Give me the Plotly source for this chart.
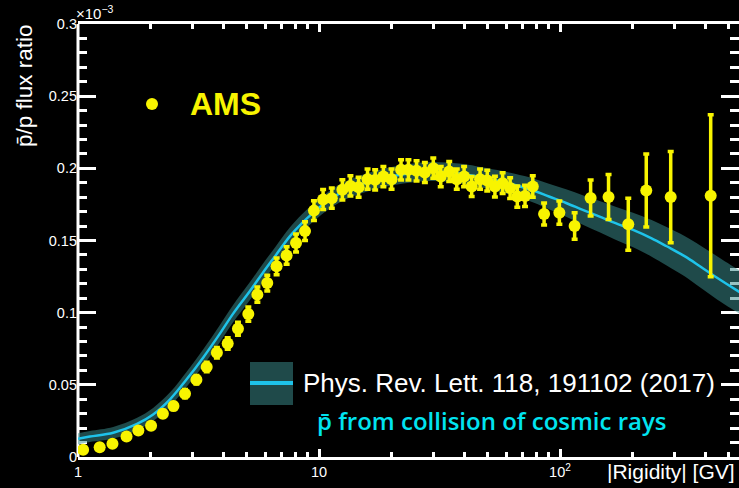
import plotly.graph_objects as go

# ---- AMS antiproton-to-proton flux ratio (values in units of 1e-3) ----
ams_rigidity = [1.05, 1.23, 1.39, 1.59, 1.78, 2.01, 2.25, 2.49, 2.78, 3.10,
                3.42, 3.77, 4.18, 4.61, 5.09, 5.55, 6.10, 6.67, 7.34, 8.03,
                8.75, 9.53,
                10.4, 11.3, 12.5, 13.5, 14.6, 15.9, 17.1, 18.5, 20.0, 21.9,
                23.5, 25.4, 27.5, 29.8, 32.0, 34.7, 37.3, 40.0, 43.0, 46.6,
                49.9, 53.7, 57.8, 62.1, 66.5, 71.6, 77.1,
                85.9, 99.4, 115, 134, 159, 192, 228, 288, 422]
ams_ratio = [0.0050, 0.0068, 0.0092, 0.0142, 0.0184, 0.0217, 0.0300, 0.0353, 0.0439, 0.0535,
             0.0624, 0.0722, 0.0786, 0.0889, 0.0990, 0.1125, 0.1205, 0.1321, 0.1396, 0.1483,
             0.1565, 0.1707,
             0.1784, 0.1793, 0.1851, 0.1878, 0.1869, 0.1925, 0.1920, 0.1943, 0.1925, 0.1990,
             0.1990, 0.1983, 0.1971, 0.2001, 0.1943, 0.1978, 0.1925, 0.1943, 0.1874, 0.1925,
             0.1915, 0.1874, 0.1897, 0.1863, 0.1804, 0.1809, 0.1874,
             0.1684, 0.1693, 0.1601, 0.1795, 0.1802, 0.1613, 0.1847, 0.1801, 0.1810]
ams_error = [0.0015, 0.0015, 0.0015, 0.0018, 0.0020, 0.0020, 0.0022, 0.0025, 0.0028, 0.0030,
             0.0033, 0.0036, 0.0040, 0.0045, 0.0050, 0.0052, 0.0055, 0.0058, 0.0060, 0.0062,
             0.0065, 0.0068,
             0.0070, 0.0070, 0.0070, 0.0070, 0.0070, 0.0070, 0.0070, 0.0070, 0.0070, 0.0070,
             0.0070, 0.0070, 0.0070, 0.0070, 0.0070, 0.0070, 0.0070, 0.0070, 0.0070, 0.0070,
             0.0072, 0.0072, 0.0072, 0.0072, 0.0074, 0.0074, 0.0074,
             0.0076, 0.0081, 0.0092, 0.0125, 0.0156, 0.0180, 0.0253, 0.0316, 0.0561]

# ---- secondary antiproton prediction (PRL 118, 191102) ----
model_rigidity = [1.0, 1.12, 1.4, 1.75, 2.05, 2.41, 2.83, 3.31, 3.88, 4.41,
                  5.17, 5.87, 6.6, 7.58, 8.5, 9.5, 11, 13, 16, 20,
                  25, 30, 38, 45, 55, 65, 78, 90, 106, 125,
                  146, 170, 201, 240, 277, 330, 382, 450, 540, 560]
model_ratio = [0.0126, 0.0142, 0.0168, 0.0228, 0.0295, 0.0400, 0.0540, 0.0690, 0.0855, 0.0995,
               0.1150, 0.1280, 0.1395, 0.1530, 0.1620, 0.1695, 0.1780, 0.1850, 0.1905, 0.1945,
               0.1970, 0.1978, 0.1965, 0.1945, 0.1915, 0.1885, 0.1845, 0.1805, 0.1760, 0.1710,
               0.1665, 0.1620, 0.1573, 0.1515, 0.1460, 0.1390, 0.1320, 0.1240, 0.1156, 0.1140]
model_unc = [0.0038, 0.0038, 0.0040, 0.0042, 0.0045, 0.0048, 0.0052, 0.0056, 0.0060, 0.0060,
             0.0062, 0.0062, 0.0062, 0.0062, 0.0062, 0.0062, 0.0062, 0.0062, 0.0063, 0.0064,
             0.0065, 0.0066, 0.0068, 0.0070, 0.0073, 0.0077, 0.0083, 0.0088, 0.0095, 0.0102,
             0.0108, 0.0114, 0.0120, 0.0127, 0.0133, 0.0140, 0.0146, 0.0150, 0.0150, 0.0150]

y_ticks = [0, 0.05, 0.1, 0.15, 0.2, 0.25, 0.3]
y_ticktext = ["0", "0.05", "0.1", "0.15", "0.2", "0.25", "0.3"]
x_ticks = [1, 10, 100]
x_ticktext = ["1", "10", "10<sup>2</sup>"]
x_minor = [2, 3, 4, 5, 6, 7, 8, 9, 20, 30, 40, 50, 60, 70, 80, 90, 200, 300, 400, 500]

YELLOW = "#f8f400"
CYAN_LINE = "#1ec3ea"
BAND = "rgba(58,140,140,0.53)"
TEXT_FONT = "Liberation Sans, Arial, sans-serif"

W, H = 739, 488
ML, MR, MT, MB = 78, 0, 24, 31
PW, PH = W - ML - MR, H - MT - MB


def px(x):
    return (x - ML) / PW


def py(y):
    return (H - MB - y) / PH


band_lo = [m - u for m, u in zip(model_ratio, model_unc)]
band_hi = [m + u for m, u in zip(model_ratio, model_unc)]

fig = go.Figure()
fig.add_trace(go.Scatter(x=model_rigidity, y=band_lo, mode="lines",
                         line=dict(width=0, shape="spline"), hoverinfo="skip",
                         showlegend=False))
fig.add_trace(go.Scatter(x=model_rigidity, y=band_hi, mode="lines",
                         line=dict(width=0, shape="spline"), fill="tonexty",
                         fillcolor=BAND, hoverinfo="skip", showlegend=False))
fig.add_trace(go.Scatter(x=model_rigidity, y=model_ratio, mode="lines",
                         line=dict(color=CYAN_LINE, width=2.5, shape="spline"),
                         showlegend=False))
fig.add_trace(go.Scatter(x=ams_rigidity, y=ams_ratio, mode="markers",
                         marker=dict(color=YELLOW, size=12, line=dict(width=0)),
                         error_y=dict(type="data", array=ams_error, color=YELLOW,
                                      thickness=3.5, width=3),
                         showlegend=False))

shapes = [
    # left frame line
    dict(type="line", xref="paper", yref="paper", x0=0, x1=0, y0=0, y1=1,
         line=dict(color="white", width=3), layer="below"),
    # legend: AMS marker
    dict(type="circle", xref="paper", yref="paper", xsizemode="pixel", ysizemode="pixel",
         xanchor=px(152), yanchor=py(104), x0=-6, x1=6, y0=-6, y1=6,
         fillcolor=YELLOW, line=dict(width=0)),
    # legend: model band + line
    dict(type="rect", xref="paper", yref="paper", x0=px(250), x1=px(293),
         y0=py(405), y1=py(362), fillcolor="#1f4a4a", line=dict(width=0)),
    dict(type="line", xref="paper", yref="paper", x0=px(250), x1=px(293),
         y0=py(383), y1=py(383), line=dict(color=CYAN_LINE, width=4)),
]

annotations = [
    dict(text="<b>AMS</b>", xref="paper", yref="paper", x=px(188), y=py(104),
         xanchor="left", yanchor="middle", showarrow=False,
         font=dict(family=TEXT_FONT, size=32, color=YELLOW)),
    dict(text="Phys. Rev. Lett. 118, 191102 (2017)", xref="paper", yref="paper",
         x=px(301), y=py(383), xanchor="left", yanchor="middle", showarrow=False,
         font=dict(family=TEXT_FONT, size=26, color="white")),
    dict(text="p\u0304 from collision of cosmic rays", xref="paper", yref="paper",
         x=px(315), y=py(420), xanchor="left", yanchor="middle", showarrow=False,
         font=dict(family="Open Sans, sans-serif", size=24, color="#00e4f0", weight=600)),
    dict(text="p\u0304/p flux ratio", xref="paper", yref="paper",
         x=px(24), y=py(86), xanchor="center", yanchor="middle", textangle=-90,
         showarrow=False, font=dict(family=TEXT_FONT, size=22.5, color="white")),
    dict(text="|Rigidity| [GV]", xref="paper", yref="paper",
         x=px(737), y=py(471), xanchor="right", yanchor="middle", showarrow=False,
         font=dict(family=TEXT_FONT, size=21, color="white")),
    dict(text="\u00d710<sup>\u22123</sup>", xref="paper", yref="paper",
         x=px(74), y=1, xanchor="left", yanchor="bottom", showarrow=False,
         font=dict(family=TEXT_FONT, size=15, color="white")),
]

fig.update_layout(
    width=W, height=H,
    margin=dict(l=ML, r=MR, t=MT, b=MB, pad=0),
    paper_bgcolor="black", plot_bgcolor="black",
    showlegend=False,
    shapes=shapes, annotations=annotations,
    xaxis=dict(type="log", range=[0, PW / 241.0],
               tickmode="array", tickvals=x_ticks, ticktext=x_ticktext,
               ticks="inside", ticklen=8, tickwidth=3, tickcolor="white",
               minor=dict(tickmode="array", tickvals=x_minor, ticks="inside",
                          ticklen=5, tickwidth=2.5, tickcolor="white", showgrid=False),
               showline=True, linecolor="white", linewidth=3, mirror="allticks",
               showgrid=False, zeroline=False, layer="below traces",
               tickfont=dict(family=TEXT_FONT, size=14.5, color="white")),
    yaxis=dict(range=[0, 0.3], tickmode="array", tickvals=y_ticks, ticktext=y_ticktext,
               ticks="inside", ticklen=18, tickwidth=3, tickcolor="white",
               minor=dict(dtick=0.01, tick0=0, ticks="inside", ticklen=9,
                          tickwidth=3, tickcolor="white", showgrid=False),
               showline=False, mirror="allticks",
               showgrid=False, zeroline=False, layer="below traces",
               tickfont=dict(family=TEXT_FONT, size=14.5, color="white")),
)

fig.write_html("out.html")
